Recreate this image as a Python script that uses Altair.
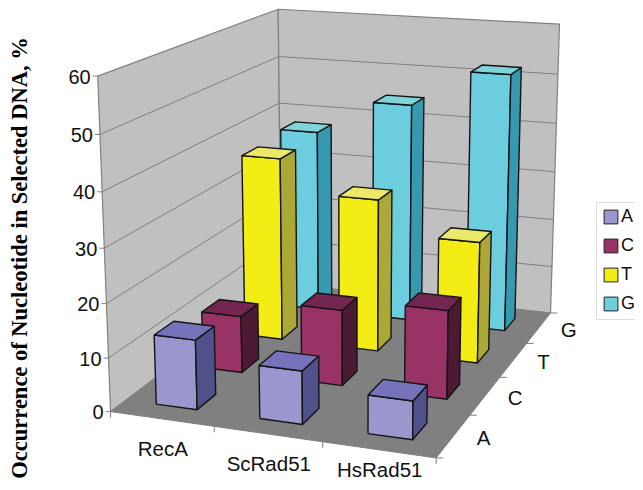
import numpy as np
import pandas as pd
import altair as alt

proteins = ["RecA", "ScRad51", "HsRad51"]
nucleotides = ["A", "C", "T", "G"]
z_ticks = [0, 10, 20, 30, 40, 50, 60]
values_A = [13, 9.8, 7]
values_C = [11, 14.5, 16.7]
values_T = [36.6, 30.2, 23.8]
values_G = [37.6, 44.6, 52]
series = {"A": values_A, "C": values_C, "T": values_T, "G": values_G}
face_colors = {
    "A": ("#9A97CF", "#50508A", "#7573BA"),
    "C": ("#993366", "#4D1A33", "#732650"),
    "T": ("#F4EC15", "#ACA838", "#EDE968"),
    "G": ("#6CCDDF", "#3799AF", "#7FD4D8"),
}
WALL, FLOOR, GRID, EDGE = "#C0C0C0", "#808080", "#808080", "#141414"

# Camera of the 3D view, calibrated on the box of the reference: (u, v, z) -> page pixel
anchors = [
    (0, 0, 0, 111, 412), (0, 0, 20, 106, 303), (0, 0, 40, 102, 192), (0, 0, 60, 98, 76),
    (3, 0, 0, 436, 458),
    (3, 4, 0, 551, 313), (3, 4, 20, 553, 219), (3, 4, 40, 556, 124), (3, 4, 60, 560, 24),
    (0, 4, 40, 279, 103), (0, 4, 50, 279, 57), (0, 4, 60, 278, 9),
]
A, b = [], []
for u, v, z, px, py in anchors:
    A.append([u, v, z, 1, 0, 0, 0, 0, -px * u, -px * v, -px * z]); b.append(px)
    A.append([0, 0, 0, 0, u, v, z, 1, -py * u, -py * v, -py * z]); b.append(py)
M = np.append(np.linalg.lstsq(np.array(A, float), np.array(b, float), rcond=None)[0], 1).reshape(3, 4)


def project(u, v, z):
    p = M @ np.array([u, v, z, 1.0])
    return float(p[0] / p[2]), float(p[1] / p[2])


polys, lines = [], []


def add_poly(rows, corners, fill, stroke):
    pid = f"p{len({r['poly'] for r in rows}):04d}"
    for i, c in enumerate(list(corners) + [corners[0]]):
        x, y = project(*c)
        rows.append({"poly": pid, "i": i, "x": x, "y": y, "fill": fill, "stroke": stroke})


def add_line(a, b):
    pid = f"l{len(lines):04d}"
    for i, c in enumerate((a, b)):
        x, y = c if len(c) == 2 else project(*c)
        lines.append({"poly": pid, "i": i, "x": x, "y": y})


NU, NV, ZMAX = len(proteins), len(nucleotides), max(z_ticks)
walls = []
add_poly(walls, [(0, 0, 0), (0, NV, 0), (0, NV, ZMAX), (0, 0, ZMAX)], WALL, GRID)
add_poly(walls, [(0, NV, 0), (NU, NV, 0), (NU, NV, ZMAX), (0, NV, ZMAX)], WALL, GRID)
for z in z_ticks[1:-1]:
    add_line((0, 0, z), (0, NV, z))
    add_line((0, NV, z), (NU, NV, z))
floor = []
add_poly(floor, [(0, 0, 0), (NU, 0, 0), (NU, NV, 0), (0, NV, 0)], FLOOR, FLOOR)

labels = []
for z in z_ticks:
    x, y = project(0, 0, z)
    add_line((x, y), (x - 5, y))
    labels.append({"x": x - 7, "y": y + 1.5, "t": str(z), "align": "right"})
for i in range(NU + 1):
    x, y = project(i, 0, 0)
    add_line((x, y), (x, y + 6))
for i, name in enumerate(proteins):
    x, y = project(i + 0.5, 0, 0)
    labels.append({"x": x + 1, "y": min(y + 31, 471), "t": name, "align": "center"})
for j in range(NV + 1):
    x, y = project(NU, j, 0)
    add_line((x, y), (x + 7, y))
for j, name in enumerate(nucleotides):
    x, y = project(NU, j + 0.5, 0)
    labels.append({"x": x + 30, "y": y + 3, "t": name, "align": "center"})

bars = []
for j in reversed(range(NV)):
    name = nucleotides[j]
    front, side, top = face_colors[name]
    for i in range(NU):
        h = series[name][i]
        u0, u1, v0, v1 = i + 0.3, i + 0.7, j + 0.3, j + 0.7
        add_poly(bars, [(u0, v0, 0), (u1, v0, 0), (u1, v0, h), (u0, v0, h)], front, EDGE)
        add_poly(bars, [(u1, v0, 0), (u1, v1, 0), (u1, v1, h), (u1, v0, h)], side, EDGE)
        add_poly(bars, [(u0, v0, h), (u1, v0, h), (u1, v1, h), (u0, v1, h)], top, EDGE)

X = alt.X("x:Q", scale=alt.Scale(domain=[8, 635], nice=False, zero=False), axis=None)
Y = alt.Y("y:Q", scale=alt.Scale(domain=[482, 8], nice=False, zero=False), axis=None)


def poly_layer(rows, width):
    return (
        alt.Chart(pd.DataFrame(rows))
        .mark_line(strokeWidth=width, strokeJoin="round", clip=False)
        .encode(
            X, Y,
            detail="poly:N",
            order="i:Q",
            fill=alt.Fill("fill:N", scale=None, legend=None),
            stroke=alt.Stroke("stroke:N", scale=None, legend=None),
        )
    )


# legend keys, tucked beneath the walls
cx, cy = project(1, NV, 30)
legend_df = pd.DataFrame([{"x": cx, "y": cy, "n": n} for n in nucleotides])
legend_layer = alt.Chart(legend_df).mark_square(size=50).encode(
    X, Y,
    color=alt.Color(
        "n:N",
        scale=alt.Scale(domain=nucleotides, range=[face_colors[n][0] for n in nucleotides]),
        legend=alt.Legend(
            title=None, orient="none", legendX=588, legendY=194,
            symbolType="square", symbolSize=190, symbolStrokeColor="#222222", symbolStrokeWidth=1,
            symbolOpacity=1, labelFontSize=18, labelFont="Liberation Sans", labelColor="#111111",
            labelOffset=1, rowPadding=11, padding=6, fillColor="#FFFFFF", strokeColor="#DDDDDD",
        ),
    ),
)

line_layer = alt.Chart(pd.DataFrame(lines)).mark_line(color=GRID, strokeWidth=1).encode(
    X, Y, detail="poly:N", order="i:Q"
)

df_labels = pd.DataFrame(labels)
right_text = alt.Chart(df_labels[df_labels["align"] == "right"]).mark_text(
    align="right", baseline="middle", fontSize=20, font="Liberation Sans", color="#111111"
).encode(X, Y, text="t:N")
center_text = alt.Chart(df_labels[df_labels["align"] == "center"]).mark_text(
    align="center", baseline="middle", fontSize=20.5, font="Liberation Sans", color="#111111"
).encode(X, Y, text="t:N")
title_text = alt.Chart(pd.DataFrame([{"x": 20, "y": 258, "t": "Occurrence of Nucleotide in Selected DNA, %"}])).mark_text(
    angle=270, align="center", baseline="middle", fontSize=22.5, fontWeight="bold",
    font="Liberation Serif", color="#000000"
).encode(X, Y, text="t:N")

chart = (
    alt.layer(
        legend_layer,
        poly_layer(walls, 1.2),
        poly_layer(floor, 1),
        line_layer,
        poly_layer(bars, 1.4),
        right_text, center_text, title_text,
    )
    .resolve_scale(fill="independent", stroke="independent")
    .properties(width=627, height=474, padding=0, autosize=alt.AutoSizeParams(type="none"))
    .configure_view(stroke=None)
)
chart.save("out.html", embed_options={"renderer": "svg", "actions": False})
